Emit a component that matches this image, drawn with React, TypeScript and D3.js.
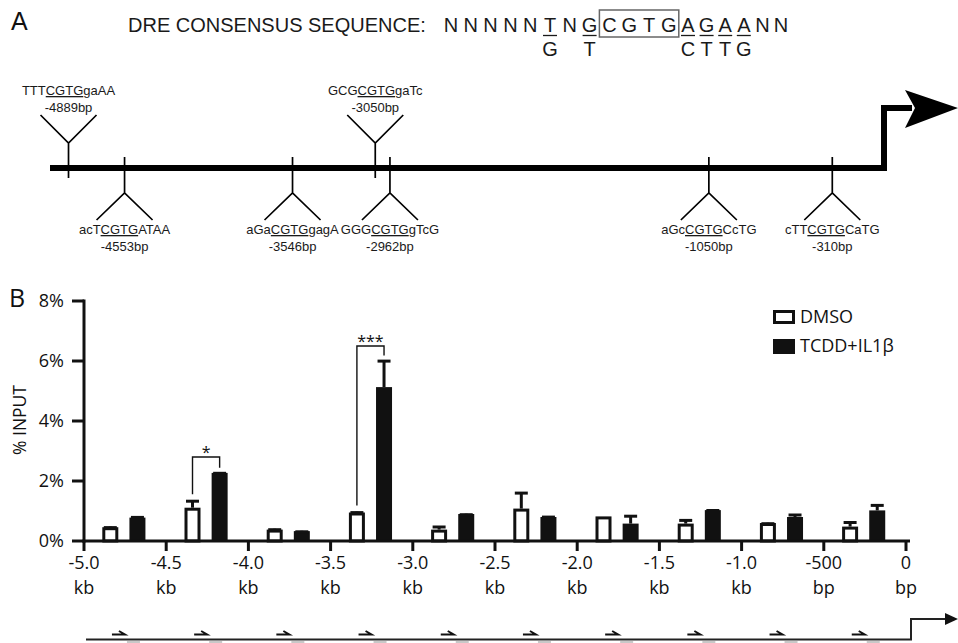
import React from "react";
import * as d3 from "d3";

// ---------- Panel A data ----------
const consensus = ["N","N","N","N","N","T","N","G","C","G","T","G","A","G","A","A","N","N"];
const alternates = ["","","","","","G","","T","","","","","C","T","T","G","",""];
const coreStart = 8;
const coreEnd = 11;

const dreSites = [-4889, -4553, -3546, -3050, -2962, -1050, -310];
const dreSeqs = ["TTTCGTGgaAA", "acTCGTGATAA", "aGaCGTGgagA", "GCGCGTGgaTc", "GGGCGTGgTcG", "aGcCGTGCcTG", "cTTCGTGCaTG"];
const dreSide = ["up", "down", "down", "up", "down", "down", "down"];

// ---------- Panel B data ----------
const regionStarts = [-5000, -4500, -4000, -3500, -3000, -2500, -2000, -1500, -1000, -500];
const dmsoMean = [0.46, 1.11, 0.38, 0.95, 0.38, 1.08, 0.82, 0.58, 0.6, 0.48];
const dmsoErr = [0.02, 0.25, 0.03, 0.03, 0.12, 0.55, 0.0, 0.14, 0.01, 0.17];
const tcddMean = [0.78, 2.27, 0.33, 5.13, 0.9, 0.8, 0.58, 1.03, 0.8, 1.02];
const tcddErr = [0.04, 0.02, 0.01, 0.9, 0.01, 0.03, 0.28, 0.02, 0.1, 0.2];
const seriesNames = ["DMSO", "TCDD+IL1β"];

const xTickValues = [-5000, -4500, -4000, -3500, -3000, -2500, -2000, -1500, -1000, -500, 0];
const xTickTop = ["-5.0", "-4.5", "-4.0", "-3.5", "-3.0", "-2.5", "-2.0", "-1.5", "-1.0", "-500", "0"];
const xTickBottom = ["kb", "kb", "kb", "kb", "kb", "kb", "kb", "kb", "kb", "bp", "bp"];
const yTickValues = [0, 2, 4, 6, 8];

const sigRegion = [1, 3];
const sigLabel = ["*", "***"];
const sigLevel = [2.8, 6.5];

const FA = "'Liberation Sans', Arial, sans-serif";
const FB = "'Open Sans', sans-serif";
const INK = "#111";

export default function App() {
  // Panel A scale
  const xA = d3.scaleLinear().domain([-5000, 0]).range([50, 884]);
  const letterX = (i: number) => (i < 12 ? 451 + i * 19.8 : 688 + (i - 12) * 18.6);

  // Panel B scales
  const x = d3.scaleLinear().domain([-5000, 0]).range([84, 906]);
  const y = d3.scaleLinear().domain([0, 8]).range([541, 301]);
  const y0 = y(0);
  const dmsoOff = 160;
  const tcddOff = 325;
  const barW = 16;

  const errorBar = (cx: number, m: number, e: number, key: string) => {
    if (e <= 0) return null;
    const yt = y(m + e);
    return (
      <g key={key}>
        <line x1={cx} x2={cx} y1={y(m)} y2={yt} stroke={INK} strokeWidth={3} />
        <line x1={cx - 6.5} x2={cx + 6.5} y1={yt + 1} y2={yt + 1} stroke={INK} strokeWidth={3} />
      </g>
    );
  };

  return (
    <div style={{ position: "absolute", left: 0, top: 0 }}>
      <svg width={958} height={643} style={{ display: "block", background: "#fff" }}>
        {/* ================= Panel A ================= */}
        <text x={11} y={30} fontFamily={FA} fontSize={25} fill={INK}>A</text>
        <text x={128} y={32} fontFamily={FA} fontSize={20} fill="#1a1a1a">DRE CONSENSUS SEQUENCE:</text>
        {consensus.map((c, i) => (
          <text key={"c" + i} x={letterX(i)} y={32} fontFamily={FA} fontSize={20} fill="#1a1a1a" textAnchor="middle">{c}</text>
        ))}
        {alternates.map((c, i) =>
          c ? (
            <g key={"a" + i}>
              <line x1={letterX(i) - 7} x2={letterX(i) + 7} y1={35.5} y2={35.5} stroke="#1a1a1a" strokeWidth={1.3} />
              <text x={letterX(i)} y={56} fontFamily={FA} fontSize={20} fill="#1a1a1a" textAnchor="middle">{c}</text>
            </g>
          ) : null
        )}
        <rect x={letterX(coreStart) - 10} y={10} width={letterX(coreEnd) - letterX(coreStart) + 20} height={27} fill="none" stroke="#666" strokeWidth={1.5} />

        {/* promoter line */}
        <path d={`M${xA(-5000)},168 H${xA(0)} V108 H912`} fill="none" stroke="#000" strokeWidth={6} strokeLinejoin="miter" />
        <path d="M905,90 L958,108 L905,128 L915,108 Z" fill="#000" />

        {dreSites.map((s, i) => {
          const cx = xA(s);
          const seq = dreSeqs[i];
          const k = seq.indexOf("CGTG");
          const up = dreSide[i] === "up";
          const seqY = up ? 95 : 234;
          const bpY = up ? 112 : 251;
          return (
            <g key={"s" + i}>
              {up ? (
                <path d={`M${cx},178 V143 M${cx - 28},115 L${cx},143 L${cx + 28},115`} fill="none" stroke="#000" strokeWidth={1.7} />
              ) : (
                <path d={`M${cx},157 V193 M${cx - 28},220 L${cx},193 L${cx + 28},220`} fill="none" stroke="#000" strokeWidth={1.7} />
              )}
              <text x={cx} y={seqY} fontFamily={FA} fontSize={13} fill="#1a1a1a" textAnchor="middle">
                <tspan>{seq.slice(0, k)}</tspan>
                <tspan style={{ textDecoration: "underline" }}>{seq.slice(k, k + 4)}</tspan>
                <tspan>{seq.slice(k + 4)}</tspan>
              </text>
              <text x={cx} y={bpY} fontFamily={FA} fontSize={13} fill="#1a1a1a" textAnchor="middle">{`${s}bp`}</text>
            </g>
          );
        })}

        {/* ================= Panel B ================= */}
        <text x={9} y={307} fontFamily={FB} fontSize={25} fill={INK}>B</text>
        <text transform="translate(26,420) rotate(-90)" fontFamily={FB} fontSize={17.5} fill={INK} textAnchor="middle">% INPUT</text>

        {/* y axis */}
        <line x1={84} x2={84} y1={y(8) - 1.5} y2={y0 + 1.5} stroke={INK} strokeWidth={3} />
        {yTickValues.map((v) => (
          <g key={"yt" + v}>
            <line x1={72} x2={84} y1={y(v)} y2={y(v)} stroke={INK} strokeWidth={3} />
            <text x={64} y={y(v)} dy="0.36em" fontFamily={FB} fontSize={18} fill={INK} textAnchor="end">{`${v}%`}</text>
          </g>
        ))}

        {/* bars */}
        {regionStarts.map((s, i) => {
          const cd = x(s + dmsoOff);
          const ct = x(s + tcddOff);
          return (
            <g key={"b" + i}>
              <rect x={cd - barW / 2 + 1.5} y={y(dmsoMean[i]) + 1.5} width={barW - 3} height={y0 - y(dmsoMean[i]) - 1.5} fill="#fff" stroke={INK} strokeWidth={3} />
              <rect x={ct - barW / 2} y={y(tcddMean[i])} width={barW} height={y0 - y(tcddMean[i])} fill={INK} />
              {errorBar(cd, dmsoMean[i], dmsoErr[i], "ed" + i)}
              {errorBar(ct, tcddMean[i], tcddErr[i], "et" + i)}
            </g>
          );
        })}

        {/* x axis */}
        <line x1={82.5} x2={910} y1={y0} y2={y0} stroke={INK} strokeWidth={3} />
        {xTickValues.map((v, i) => (
          <g key={"xt" + v}>
            <line x1={x(v)} x2={x(v)} y1={y0} y2={y0 + 10} stroke={INK} strokeWidth={3} />
            <text x={x(v)} y={569} fontFamily={FB} fontSize={18} fill={INK} textAnchor="middle">{xTickTop[i]}</text>
            <text x={x(v)} y={594} fontFamily={FB} fontSize={18} fill={INK} textAnchor="middle">{xTickBottom[i]}</text>
          </g>
        ))}

        {/* significance brackets */}
        {sigRegion.map((r, j) => {
          const s = regionStarts[r];
          const cd = x(s + dmsoOff);
          const ct = x(s + tcddOff);
          const top = y(sigLevel[j]);
          const lb = y(dmsoMean[r] + dmsoErr[r] + 0.2);
          const rb = y(tcddMean[r] + tcddErr[r] + 0.15);
          return (
            <g key={"sig" + j}>
              <path d={`M${cd},${lb} V${top} H${ct} V${rb}`} fill="none" stroke={INK} strokeWidth={1.4} />
              <text x={(cd + ct) / 2} y={top + 1} fontFamily={FB} fontSize={16} fill={INK} textAnchor="middle">{sigLabel[j]}</text>
            </g>
          );
        })}

        {/* legend */}
        <rect x={774.5} y={311.5} width={19} height={11} fill="#fff" stroke={INK} strokeWidth={3} />
        <rect x={773} y={339} width={22} height={15} fill={INK} />
        <text x={800} y={317} dy="0.36em" fontFamily={FB} fontSize={18} fill={INK}>{seriesNames[0]}</text>
        <text x={800} y={346} dy="0.36em" fontFamily={FB} fontSize={18} fill={INK}>{seriesNames[1]}</text>

        {/* primer map */}
        <path d={`M86,639.5 H911 V619 H950`} fill="none" stroke="#222" strokeWidth={2} />
        <path d="M945,613 L958,619 L945,625 Z" fill="#111" />
        {regionStarts.map((s, i) => {
          const px = x(s + 170);
          return (
            <g key={"p" + i}>
              <path d={`M${px},634.5 H${px + 13} L${px + 7},631`} fill="none" stroke="#111" strokeWidth={2} />
              <rect x={px + 15} y={641} width={13} height={3} fill="#c8c8c8" />
            </g>
          );
        })}
      </svg>
    </div>
  );
}
